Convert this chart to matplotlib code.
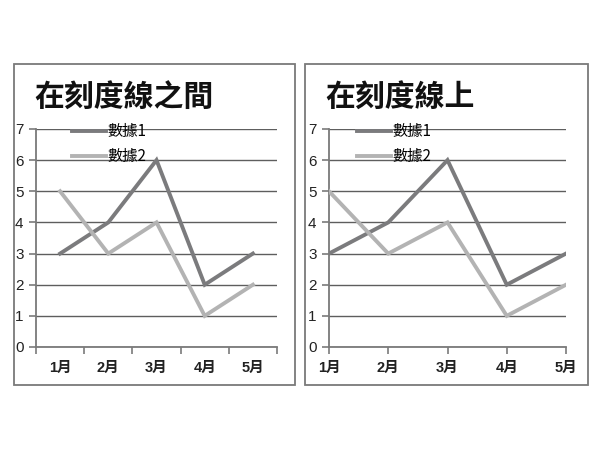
import matplotlib
matplotlib.use("Agg")
import matplotlib.pyplot as plt
from matplotlib.patches import Rectangle

plt.rcParams['font.family'] = ['Liberation Sans', 'Noto Sans CJK TC', 'DejaVu Sans']

categories = ['1月', '2月', '3月', '4月', '5月']
series1 = [3, 4, 6, 2, 3]
series2 = [5, 3, 4, 1, 2]
labels = ['數據1', '數據2']
titles = ['在刻度線之間', '在刻度線上']

W, H = 600, 450
fig = plt.figure(figsize=(6, 4.5), dpi=100)

def fx(px):
    return px / W

def fy(py):
    return 1 - py / H

# panel borders
for (x0, y0, x1, y1) in [(14, 64, 295, 385), (305, 64, 588, 385)]:
    fig.patches.append(Rectangle((fx(x0), fy(y1)), fx(x1 - x0), (y1 - y0) / H,
                                 transform=fig.transFigure, fill=False,
                                 edgecolor='#7a7a7a', linewidth=1.3))

panels = [
    dict(ax=(36, 129, 277, 347), title_x=34, leg_x=72, between=True),
    dict(ax=(329, 129, 566, 347), title_x=325, leg_x=357, between=False),
]

c1 = '#7b7b7d'
c2 = '#b3b3b3'

for i, p in enumerate(panels):
    x0, y0, x1, y1 = p['ax']
    ax = fig.add_axes([fx(x0), fy(y1), fx(x1 - x0), (y1 - y0) / H])
    xs = list(range(len(categories)))
    ax.plot(xs, series1, color=c1, linewidth=2.8, label=labels[0], solid_joinstyle='miter', zorder=3)
    ax.plot(xs, series2, color=c2, linewidth=2.8, label=labels[1], solid_joinstyle='miter', zorder=3)
    ax.set_ylim(0, 7)
    ax.set_yticks(range(0, 8))
    if p['between']:
        ax.set_xlim(-0.5, len(categories) - 0.5)
        ax.set_xticks([k - 0.5 for k in range(len(categories) + 1)])
        ax.set_xticklabels([])
        ax.set_xticks(xs, minor=True)
        ax.set_xticklabels(categories, minor=True)
        ax.tick_params(axis='x', which='minor', length=0, pad=10)
    else:
        ax.set_xlim(0, len(categories) - 1)
        ax.set_xticks(xs)
        ax.set_xticklabels(categories)
    ax.tick_params(axis='x', which='major', length=5, width=1.2, color='#7a7a7a', pad=5)
    ax.tick_params(axis='y', length=5, width=1.2, color='#7a7a7a', pad=4)
    for lab in ax.get_xticklabels(which='both'):
        lab.set_fontsize(10.5)
        lab.set_fontweight('bold')
        lab.set_color('#222222')
    for lab in ax.get_yticklabels():
        lab.set_fontsize(11)
        lab.set_color('#222222')
    ax.grid(axis='y', color='#5e5e5e', linewidth=1.0)
    ax.set_axisbelow(True)
    for s in ['top', 'right']:
        ax.spines[s].set_visible(False)
    for s in ['left', 'bottom']:
        ax.spines[s].set_color('#7a7a7a')
        ax.spines[s].set_linewidth(1.3)
    ax.patch.set_alpha(0)
    leg = ax.legend(loc='upper left', bbox_to_anchor=(fx(p['leg_x']), fy(123)),
                    bbox_transform=fig.transFigure, frameon=False,
                    prop={'family': ['Noto Sans CJK TC', 'DejaVu Sans'], 'size': 11},
                    handlelength=2.2, handletextpad=0.1, labelspacing=0.55,
                    borderaxespad=0, borderpad=0)
    fig.text(fx(p['title_x']), fy(98), titles[i], fontsize=21.5, fontweight='bold',
             family=['Noto Sans CJK TC', 'DejaVu Sans'],
             ha='left', va='center', color='#111111')

fig.savefig('out.png', dpi=100)
